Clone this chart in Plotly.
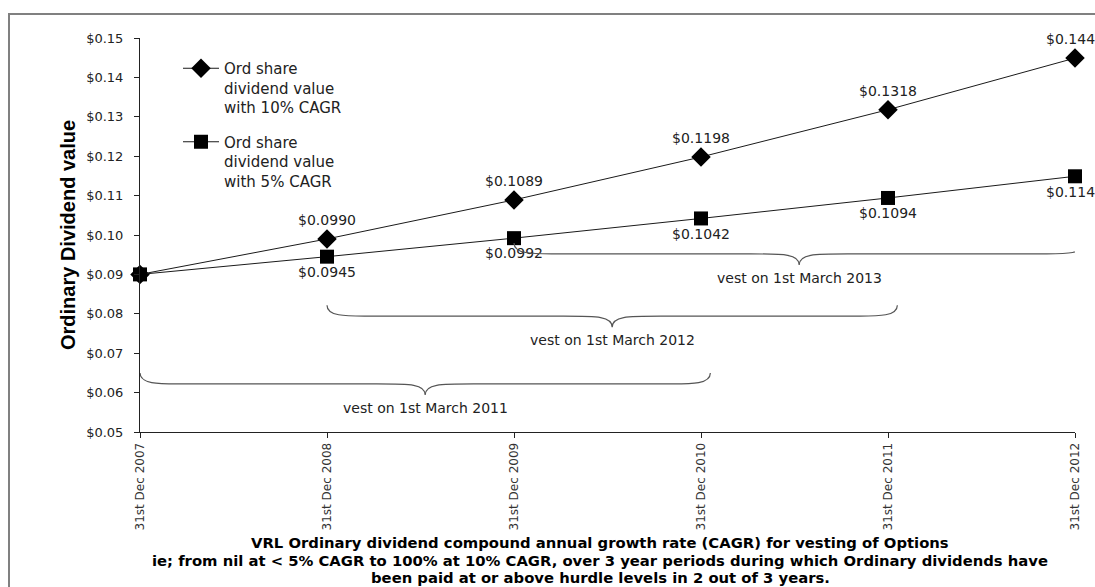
import plotly.graph_objects as go

categories = ["31st Dec 2007", "31st Dec 2008", "31st Dec 2009",
              "31st Dec 2010", "31st Dec 2011", "31st Dec 2012"]
cagr10 = [0.0900, 0.0990, 0.1089, 0.1198, 0.1318, 0.1449]
cagr5 = [0.0900, 0.0945, 0.0992, 0.1042, 0.1094, 0.1149]
name10 = "Ord share<br>dividend value<br>with 10% CAGR"
name5 = "Ord share<br>dividend value<br>with 5% CAGR"
vest_labels = ["vest on 1st March 2011", "vest on 1st March 2012", "vest on 1st March 2013"]
vest_start = [0, 1, 2]
vest_end_y = [0.0650, 0.0822, 0.0980]
y_ticks = [0.05, 0.06, 0.07, 0.08, 0.09, 0.10, 0.11, 0.12, 0.13, 0.14, 0.15]
footer_lines = [
    "VRL Ordinary dividend compound annual growth rate (CAGR) for vesting of Options",
    "ie; from nil at &lt; 5% CAGR to 100% at 10% CAGR, over 3 year periods during which Ordinary dividends have",
    "been paid at or above hurdle levels in 2 out of 3 years.",
]

xs = list(range(len(categories)))
FONT = "DejaVu Sans, Liberation Sans, Arial, sans-serif"
BOLD = "Liberation Sans Narrow, Arial Narrow, Liberation Sans, Arial, sans-serif"

# plot area in pixels (for converting layout positions)
PL, PR, PT, PB = 140, 1075, 38, 432
def py(p):
    return (PB - p) / (PB - PT)
def px(p):
    return (p - PL) / (PR - PL)

def lbl(vals):
    return [""] + ["$%.4f" % v for v in vals[1:]]

fig = go.Figure()
fig.add_trace(go.Scatter(
    x=xs, y=cagr10, name=name10, mode="lines+markers+text",
    line=dict(color="#1a1a1a", width=1),
    marker=dict(symbol="diamond", size=15, color="black"),
    text=lbl(cagr10), textposition="top center",
    textfont=dict(family=FONT, size=14, color="#222222"),
    cliponaxis=False, legendgroup="a"))
fig.add_trace(go.Scatter(
    x=xs, y=cagr5, name=name5, mode="lines+markers+text",
    line=dict(color="#1a1a1a", width=1),
    marker=dict(symbol="square", size=14, color="black"),
    text=lbl(cagr5), textposition="bottom center",
    textfont=dict(family=FONT, size=14, color="#222222"),
    cliponaxis=False, legendgroup="b"))

shapes = []
annotations = []
span = 3.05
a = 0.10
b = 0.26
for lab, s, ye in zip(vest_labels, vest_start, vest_end_y):
    x0 = s
    x1 = s + span
    xm = (x0 + x1) / 2
    yh = ye - 0.0028
    yt = ye - 0.0056
    path = (f"M {x0},{ye} C {x0},{yh} {x0+a},{yh} {x0+2*a},{yh} "
            f"L {xm-b},{yh} C {xm-b*0.3},{yh} {xm},{yh} {xm},{yt} "
            f"C {xm},{yh} {xm+b*0.3},{yh} {xm+b},{yh} "
            f"L {x1-2*a},{yh} C {x1-a},{yh} {x1},{yh} {x1},{ye}")
    shapes.append(dict(type="path", xref="x", yref="y", path=path,
                       line=dict(color="#555555", width=1.2)))
    annotations.append(dict(x=xm, y=yt, xref="x", yref="y", text=lab,
                            showarrow=False, yanchor="top", yshift=-3,
                            font=dict(family=FONT, size=14, color="#222222")))

# outer frame
shapes.append(dict(type="rect", xref="paper", yref="paper",
                   x0=px(9), x1=px(1200), y0=py(700), y1=py(14),
                   line=dict(color="#808080", width=2)))

for line, yc in zip(footer_lines, [542, 560, 577]):
    annotations.append(dict(
        x=px(600), y=py(yc), xref="paper", yref="paper",
        text="<b>" + line + "</b>", showarrow=False,
        xanchor="center", yanchor="middle",
        font=dict(family="DejaVu Sans, Liberation Sans, sans-serif", size=14.8, color="black")))

fig.update_layout(
    width=1095, height=587,
    margin=dict(l=PL, r=1095 - PR, t=PT, b=587 - PB),
    paper_bgcolor="white", plot_bgcolor="white",
    showlegend=True,
    legend=dict(x=px(178), y=py(52), xanchor="left", yanchor="top",
                bgcolor="rgba(0,0,0,0)", valign="top", tracegroupgap=12,
                traceorder="grouped", itemwidth=36,
                font=dict(family=FONT, size=15, color="#222222")),
    xaxis=dict(range=[0, 5], tickmode="array", tickvals=xs, ticktext=categories,
               tickangle=-90, showgrid=False, zeroline=False,
               showline=True, linecolor="#222222", linewidth=1,
               ticks="outside", ticklen=5, tickcolor="#222222",
               tickfont=dict(family=FONT, size=12, color="#333333")),
    yaxis=dict(range=[0.05, 0.15], tickvals=y_ticks, tickformat="$.2f",
               showgrid=False, zeroline=False,
               showline=True, linecolor="#222222", linewidth=1,
               ticks="outside", ticklen=5, tickcolor="#222222",
               ticklabelstandoff=8,
               tickfont=dict(family=FONT, size=13, color="#222222"),
               title=dict(text="<b>Ordinary Dividend value</b>", standoff=5,
                          font=dict(family=BOLD, size=20, color="black"))),
    shapes=shapes, annotations=annotations)

fig.write_html("out.html", config={"displayModeBar": False},
               post_script="document.body.style.margin='0px';")
